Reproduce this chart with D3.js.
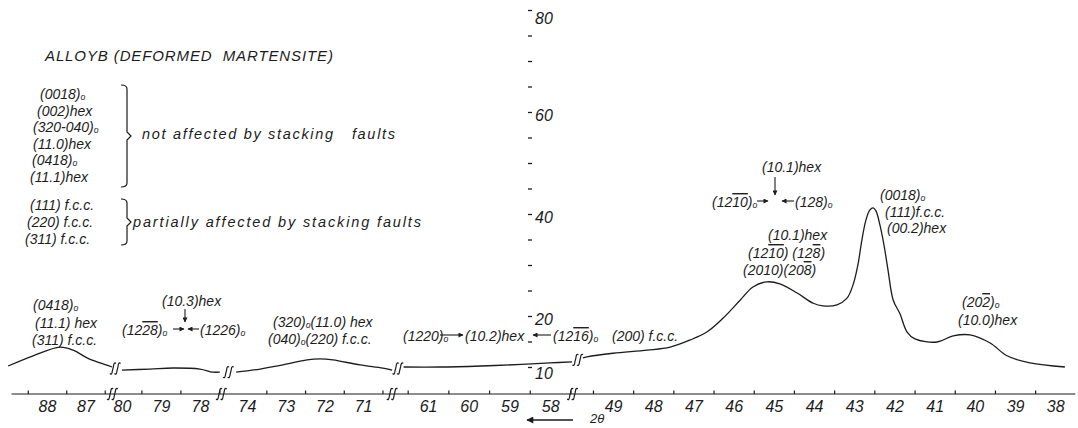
<!DOCTYPE html>
<html><head><meta charset="utf-8">
<script src="https://cdn.jsdelivr.net/npm/d3@7/dist/d3.min.js"></script>
<style>
body{margin:0;background:#fff;}
svg text{font-family:"Liberation Sans",Arimo,"DejaVu Sans",sans-serif;font-style:italic;fill:#1c1c1c;white-space:pre;}
</style></head><body>
<svg id="c" width="1078" height="428"></svg>
<script>
// ---------------- data ----------------
// 2-theta domain of each broken-axis segment (degrees, decreasing to the right)
const segDomains = [[89.0,86.3],[80.1,77.45],[74.3,70.25],[61.6,57.45],[49.75,37.75]];
const segTickLabels = [[88,87],[80,79,78],[74,73,72,71],[61,60,59,58],[49,48,47,46,45,44,43,42,41,40,39,38]];
// intensity traces [2theta, intensity]
const curveA = [[89.01,10.2],[88.36,12.2],[87.66,13.9],[87.32,13.3],[86.96,11.8],[86.62,10.8],[86.31,10.0]];
const curveB = [[80.0,9.4],[79.28,9.6],[78.69,9.8],[78.0,9.6],[77.67,9.0],[77.49,9.0]];
const curveC = [[74.28,9.0],[73.66,9.6],[73.07,10.4],[72.45,11.4],[72.11,11.6],[71.78,11.4],[71.08,10.4],[70.49,9.8],[70.25,9.4]];
const curveD = [[61.6,10.0],[60.7,10.0],[59.7,10.2],[58.7,10.5],[58.0,10.8],[57.46,11.0]];
const curveE = [[49.75,11.8],[49.65,12.0],[49.0,12.7],[48.15,13.3],[47.58,13.9],[47.08,15.3],[46.66,16.9],[46.26,19.6],
  [45.84,23.1],[45.52,25.7],[45.17,26.7],[44.85,26.3],[44.42,24.5],[44.02,22.5],[43.78,22.0],[43.43,22.2],[43.18,23.5],
  [43.03,26.1],[42.91,30.0],[42.81,34.9],[42.71,38.8],[42.61,40.8],[42.53,41.2],[42.46,40.6],[42.36,37.8],[42.26,33.9],
  [42.16,29.0],[42.03,23.1],[41.86,20.4],[41.69,16.9],[41.49,15.5],[40.94,14.9],[40.54,16.1],[40.12,16.3],[39.62,14.7],
  [39.20,12.2],[38.63,10.8],[37.76,10.0]];
const curves = [curveA,curveB,curveC,curveD,curveE];
const yTickValues = [10,15,20,25,30,35,40,45,50,55,60,65,70,75,80];
const yLabelValues = [10,20,40,60,80];

// ---------------- layout ----------------
const svg = d3.select('#c');
const segStart = [8.5,118,235.4,403.6,582.9];
const segPxPerDeg = [38.5,39,38.7,40.7,40.2];
const axisY = 394;
const y = d3.scaleLinear().domain([0,80]).range([418,10]);
const xs = segDomains.map((d,i)=>d3.scaleLinear().domain(d)
  .range([segStart[i], segStart[i]+(d[0]-d[1])*segPxPerDeg[i]]));
const ink = '#1c1c1c';

// arrow marker
const defs = svg.append('defs');
defs.append('marker').attr('id','ah').attr('viewBox','0 0 10 10').attr('refX',9).attr('refY',5)
  .attr('markerWidth',6).attr('markerHeight',5).attr('markerUnits','userSpaceOnUse').attr('orient','auto')
  .append('path').attr('d','M0,0 L10,5 L0,10 Z').attr('fill',ink);
defs.append('marker').attr('id','ahBig').attr('viewBox','0 0 10 10').attr('refX',9).attr('refY',5)
  .attr('markerWidth',12).attr('markerHeight',7).attr('markerUnits','userSpaceOnUse').attr('orient','auto')
  .append('path').attr('d','M0,0 L10,5 L0,10 Z').attr('fill',ink);

// x axis line
const xFirst = xs[0].range()[0], xLast = xs[4].range()[1];
svg.append('line').attr('x1',xFirst+3).attr('x2',xLast+10).attr('y1',axisY).attr('y2',axisY)
  .attr('stroke',ink).attr('stroke-width',1.1);

xs.forEach((sc,i)=>{
  const d = segDomains[i];
  const lo = Math.min(d[0],d[1]), hi = Math.max(d[0],d[1]);
  const halves = d3.range(Math.ceil(lo-0.5), Math.floor(hi-0.5)+1).map(v=>v+0.5).filter(v=>v>=lo&&v<=hi);
  const gT = svg.append('g').attr('transform',`translate(0,${axisY})`)
    .call(d3.axisTop(sc).tickValues(halves).tickSize(3.5).tickFormat(''));
  gT.select('.domain').remove();
  gT.selectAll('line').attr('stroke',ink).attr('stroke-width',1.2);
  const gB = svg.append('g').attr('transform',`translate(0,${axisY})`)
    .call(d3.axisBottom(sc).tickValues(segTickLabels[i]).tickSize(0).tickPadding(7).tickFormat(d3.format('d')));
  gB.select('.domain').remove();
  gB.selectAll('text').attr('font-size',16).attr('font-family',null).attr('fill',ink);
});

// y axis (ticks only)
const gY = svg.append('g').attr('transform','translate(528,0)')
  .call(d3.axisRight(y).tickValues(yTickValues).tickSize(4).tickPadding(3)
    .tickFormat(v=>yLabelValues.includes(v)?String(v):''));
gY.select('.domain').remove();
gY.selectAll('line').attr('stroke',ink).attr('stroke-width',1.3);
gY.selectAll('text').attr('font-size',16).attr('font-family',null).attr('fill',ink)
  .attr('dy',v=>v===80?'0.85em':(v===10?'0.7em':'0.5em'));

// curves
const line = d3.line().curve(d3.curveCatmullRom.alpha(0.5));
curves.forEach((c,i)=>{
  svg.append('path').attr('d', line(c.map(p=>[xs[i](p[0]), y(p[1])])))
    .attr('fill','none').attr('stroke',ink).attr('stroke-width',1.3);
});

// break glyphs
function brk(cx,cy){
  [-2.3,2.3].forEach(o=>{
    const x=cx+o;
    svg.append('path').attr('d',`M${x-3},${cy+5} Q${x-1},${cy+7} ${x-0.5},${cy+2} L${x+0.5},${cy-2} Q${x+1},${cy-7} ${x+3},${cy-5}`)
      .attr('fill','none').attr('stroke',ink).attr('stroke-width',1.2);
  });
}
for(let i=0;i<4;i++){
  const xe = xs[i].range()[1], xn = xs[i+1].range()[0];
  const ce = curves[i][curves[i].length-1], cn = curves[i+1][0];
  brk((xe+xn)/2, (y(ce[1])+y(cn[1]))/2);
  brk(xe, axisY);
}

// rich text: "_o" small subscript o, "{..}" overline
function note(str,x,yc,fs=14,extra={}){
  const t = svg.append('text').attr('x',x).attr('y',yc+fs*0.36).attr('font-size',fs);
  Object.entries(extra).forEach(([k,v])=>t.attr(k,v));
  let shifted=false;
  str.split(/(\{[^}]*\}|_o)/).filter(s=>s.length).forEach(part=>{
    if(part==='_o'){ t.append('tspan').attr('font-size',fs*0.62).attr('dy',1).text('o'); shifted=true; return; }
    const ts=t.append('tspan');
    if(shifted){ ts.attr('dy',-1); shifted=false; }
    if(part[0]==='{'){ ts.style('text-decoration','overline').text(part.slice(1,-1)); }
    else ts.text(part);
  });
  return t;
}
function arrow(x1,y1,x2,y2,big){
  svg.append('line').attr('x1',x1).attr('y1',y1).attr('x2',x2).attr('y2',y2)
    .attr('stroke',ink).attr('stroke-width',big?1.6:1.1).attr('marker-end',big?'url(#ahBig)':'url(#ah)');
}

// title & legend
note('ALLOYB (DEFORMED  MARTENSITE)',45,56,15,{textLength:288,lengthAdjust:'spacing'});
note('(0018)_o',40,94); note('(002)hex',37,110.5); note('(320-040)_o',33,127);
note('(11.0)hex',33,143.5); note('(0418)_o',32,160); note('(11.1)hex',30,176.5);
note('not affected by stacking   faults',142,134,14.5,{textLength:253,lengthAdjust:'spacing'});
note('(111) f.c.c.',30,205); note('(220) f.c.c.',27,222); note('(311) f.c.c.',25,239);
note('partially affected by stacking faults',133,222,14.5,{textLength:288,lengthAdjust:'spacing'});
function bracket(xb,y0,y1){
  const ym=(y0+y1)/2;
  svg.append('path').attr('d',`M${xb-6},${y0} Q${xb},${y0} ${xb},${y0+4} L${xb},${ym-4} L${xb+4},${ym} L${xb},${ym+4} L${xb},${y1-4} Q${xb},${y1} ${xb-6},${y1}`)
    .attr('fill','none').attr('stroke',ink).attr('stroke-width',1.2);
}
bracket(127,85,187);
bracket(127,199,245);

// peak annotations
note('(0418)_o',33,305); note('(11.1) hex',35,323); note('(311) f.c.c.',32,340);
note('(10.3)hex',162,301); arrow(185,309,185,322);
note('(12{28})_o',122,330); arrow(173,329,184,329); arrow(199,329,188,329); note('(1226)_o',200,330);
note('(320)_o(11.0) hex',273,322); note('(040)_o(220) f.c.c.',268,339);
note('(1220)_o',403,336); arrow(440,335,463,335); note('(10.2)hex',465,336);
arrow(551,335,533,335); note('(12{16})_o',553,336);
note('(200) f.c.c.',612,336);
note('(10.1)hex',762,167); arrow(775,177,775,195);
note('(12{10})_o',712,202); arrow(757,201,768,201); arrow(794,201,782,201); note('(128)_o',795,202);
note('(10.1)hex',768,235); note('(12{10}) (12{8})',748,253); note('(2010)(20{8})',743,270);
note('(0018)_o',880,195); note('(111)f.c.c.',885,212); note('(00.2)hex',887,228);
note('(20{2})_o',962,302); note('(10.0)hex',958,320);

// 2theta direction arrow
arrow(573,420,527,420,true);
note('2θ',590,418.5,13);
</script></body></html>
